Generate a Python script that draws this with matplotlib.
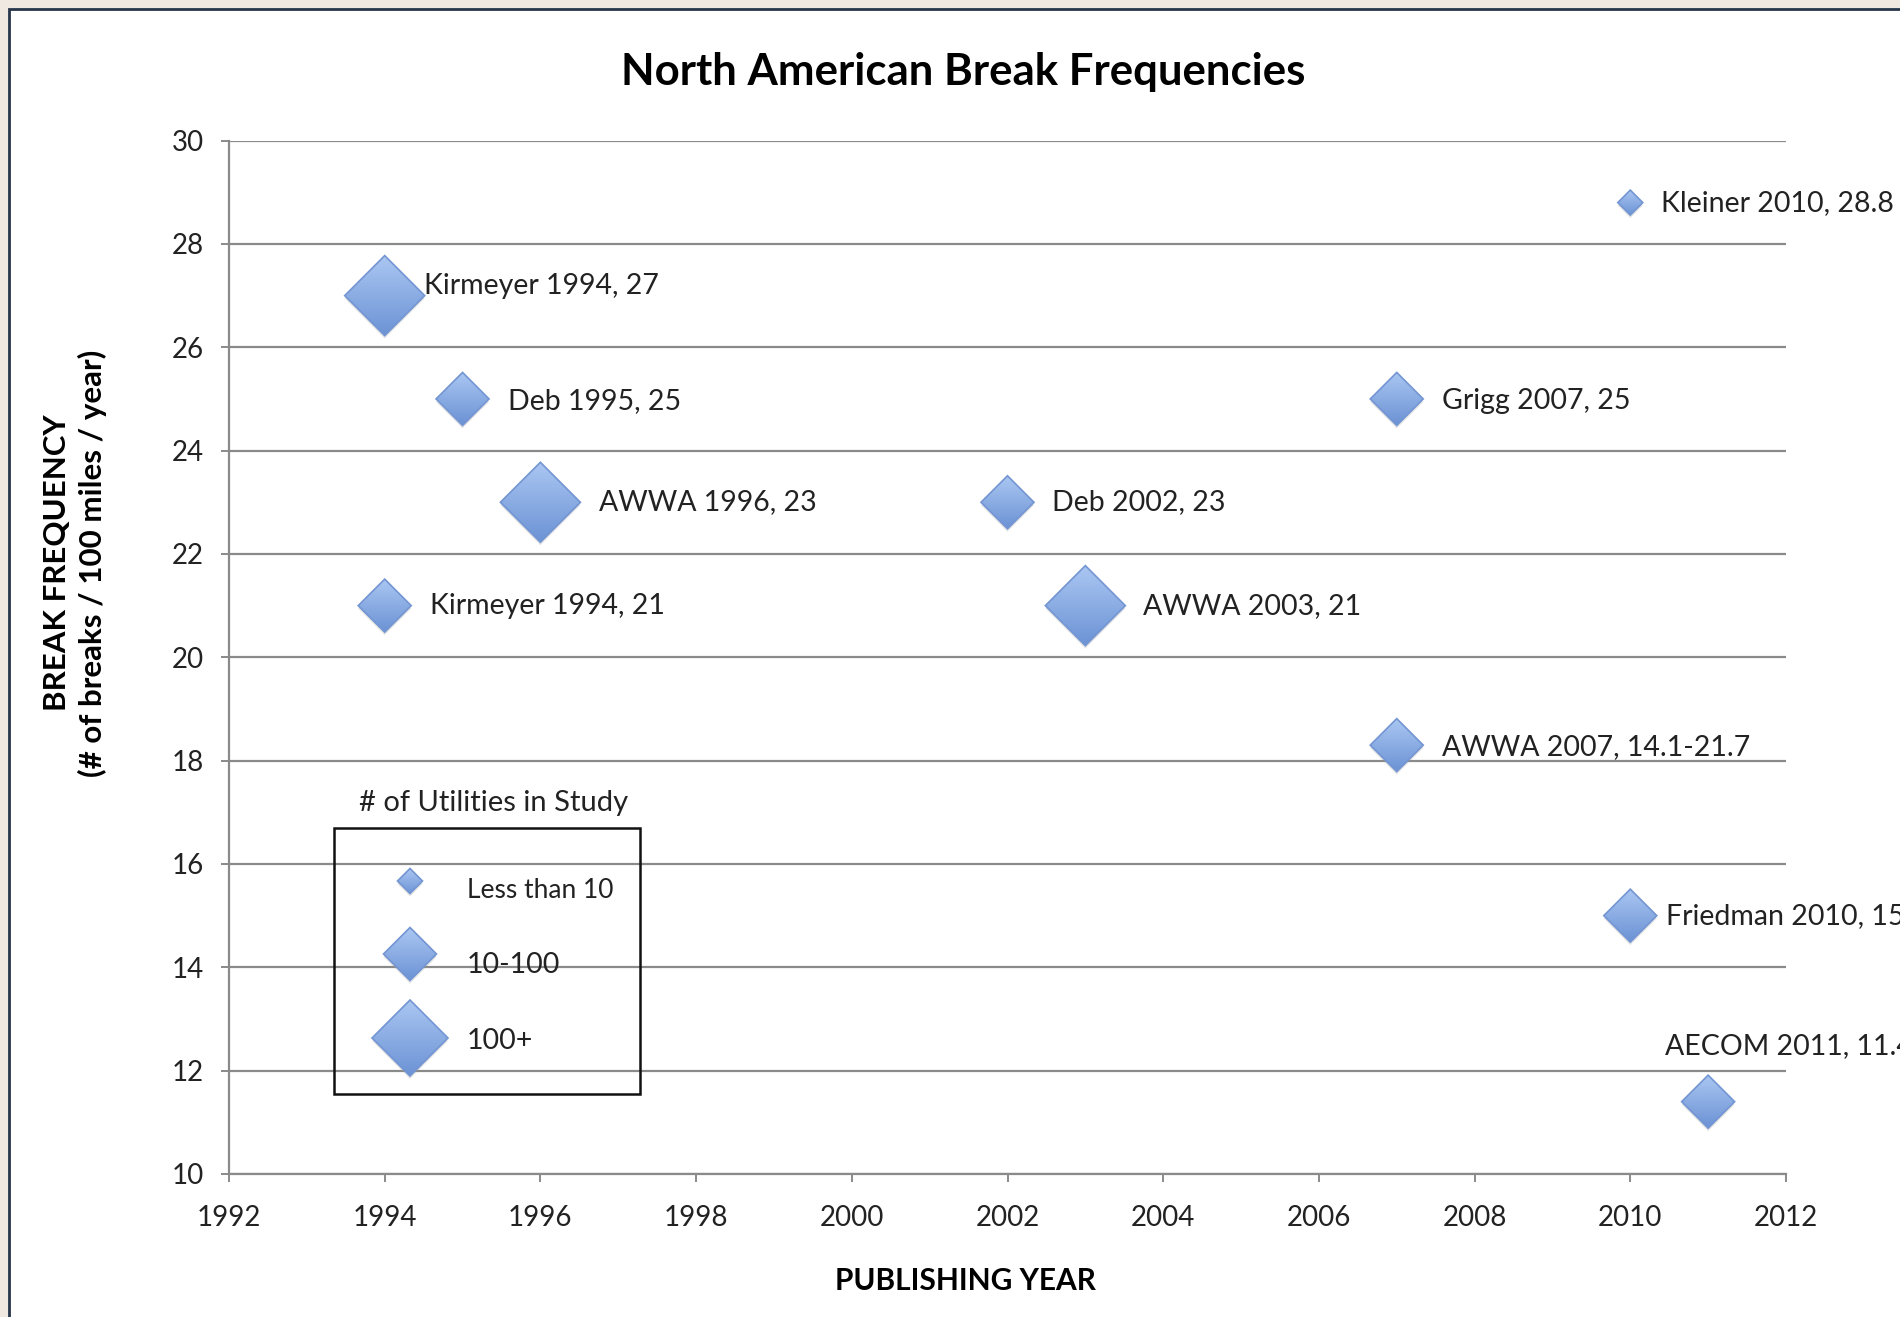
import numpy as np
import matplotlib
matplotlib.use("Agg")
import matplotlib.pyplot as plt
from matplotlib.patches import Polygon, Rectangle

plt.rcParams['font.family'] = ['Lato', 'DejaVu Sans']

# study data
labels = ["Kirmeyer 1994, 27", "Deb 1995, 25", "AWWA 1996, 23", "Kirmeyer 1994, 21",
          "Deb 2002, 23", "AWWA 2003, 21", "Grigg 2007, 25", "AWWA 2007, 14.1-21.7",
          "Kleiner 2010, 28.8", "Friedman 2010, 15", "AECOM 2011, 11.4"]
years = [1994, 1995, 1996, 1994, 2002, 2003, 2007, 2007, 2010, 2010, 2011]
breaks = [27, 25, 23, 21, 23, 21, 25, 18.3, 28.8, 15, 11.4]
# 0 = less than 10 utilities, 1 = 10-100, 2 = 100+
utility_class = [2, 1, 2, 1, 1, 2, 1, 1, 0, 1, 1]

size_names = ["Less than 10", "10-100", "100+"]
xticks = list(range(1992, 2013, 2))
yticks = list(range(10, 31, 2))

# half-diagonal of each diamond class, in pixels
half_px = [12.5, 26.5, 40]
# label offsets from the marker centre, pixels (dx, dy)
label_off = [(39, 10), (45, -2), (59, 0), (45, 0), (45, 0), (58, 0),
             (45, -2), (45, -2), (31, 0), (36, 0), (-43, 56)]

W, H = 1900, 1317
fig = plt.figure(figsize=(W / 100, H / 100), dpi=100)
fig.patch.set_facecolor('#efe9e2')
fig.add_artist(Rectangle((9 / W, -0.05), 1.1, 1.05 - 9 / H, transform=fig.transFigure,
                         facecolor='white', edgecolor='#27364b', lw=2, zorder=-10))

ax_l, ax_r, ax_t, ax_b = 229, 1786, 140.6, 1174
ax = fig.add_axes([ax_l / W, 1 - ax_b / H, (ax_r - ax_l) / W, (ax_b - ax_t) / H])
ax.set_facecolor('none')
ax.set_xlim(1992, 2012)
ax.set_ylim(10, 30)
ax.set_xticks(xticks)
ax.set_yticks(yticks)

grey = '#8a8a8a'
txt = '#222222'
for s in ['top', 'right']:
    ax.spines[s].set_visible(False)
for s in ['left', 'bottom']:
    ax.spines[s].set_color(grey)
    ax.spines[s].set_linewidth(1.6)
ax.yaxis.grid(True, color=grey, lw=1.6)
ax.set_axisbelow(True)
ax.tick_params(axis='both', direction='out', length=6, width=1.4, color=grey,
               labelsize=20, labelcolor=txt)
ax.tick_params(axis='y', pad=12)
ax.tick_params(axis='x', pad=16)

px_x = 20 / (ax_r - ax_l)
px_y = 20 / (ax_b - ax_t)

grad = np.linspace(0, 1, 64).reshape(-1, 1)
cmap = matplotlib.colors.LinearSegmentedColormap.from_list('d', ['#aac6f2', '#6c93d5'])


def diamond(x, y, h):
    dx, dy = h * px_x, h * px_y
    verts = [(x, y + dy), (x + dx, y), (x, y - dy), (x - dx, y)]
    shadow = Polygon([(vx, vy - 3 * px_y) for vx, vy in verts], closed=True,
                     facecolor='#9a9a9a', edgecolor='none', alpha=0.25, zorder=3,
                     clip_on=False)
    ax.add_patch(shadow)
    poly = Polygon(verts, closed=True, facecolor='none', edgecolor='#7395d2',
                   lw=1.2, zorder=5, clip_on=False)
    ax.add_patch(poly)
    im = ax.imshow(grad, cmap=cmap, extent=(x - dx, x + dx, y - dy, y + dy),
                   origin='upper', aspect='auto', zorder=4, interpolation='bilinear')
    im.set_clip_path(poly)


for lab, x, y, c, off in zip(labels, years, breaks, utility_class, label_off):
    diamond(x, y, half_px[c])
    ax.annotate(lab, (x, y), xytext=(off[0] * 0.72, off[1] * 0.72),
                textcoords='offset points', ha='left', va='center',
                fontsize=20.5, color=txt, zorder=6)

# size key
key_x = 1992 + (410 - ax_l) * px_x
key_y = [881, 954, 1038]
key_text_dy = [-10, -11, -3]
for i, name in enumerate(size_names):
    ky = 10 + (ax_b - key_y[i]) * px_y
    diamond(key_x, ky, [12.5, 26.5, 38][i])
    ax.text(1992 + (467 - ax_l) * px_x, ky + key_text_dy[i] * px_y, name,
            ha='left', va='center', fontsize=19 if i == 0 else 20.5, color=txt, zorder=6)
fig.add_artist(Rectangle((334 / W, 1 - 1094 / H), 306 / W, 266 / H,
                         transform=fig.transFigure, facecolor='none',
                         edgecolor='#111111', lw=1.8, zorder=7))
fig.text(494 / W, 1 - 803 / H, "# of Utilities in Study", ha='center', va='center',
         fontsize=21, color=txt)

ax.set_xlim(1992, 2012)
ax.set_ylim(10, 30)

fig.text(963 / W, 1 - 71.5 / H, "North American Break Frequencies", ha='center',
         va='center', fontsize=31.5, fontweight='bold', color='black')
fig.text(965 / W, 1 - 1281 / H, "PUBLISHING YEAR", ha='center', va='center',
         fontsize=21.5, fontweight='bold', color='black')
fig.text(75 / W, 1 - 563 / H, "BREAK FREQUENCY\n(# of breaks / 100 miles / year)",
         rotation=90, ha='center', va='center', multialignment='center',
         fontsize=22.5, fontweight='bold', color='black', linespacing=1.25)

fig.savefig("out.png", dpi=100, facecolor=fig.get_facecolor())
